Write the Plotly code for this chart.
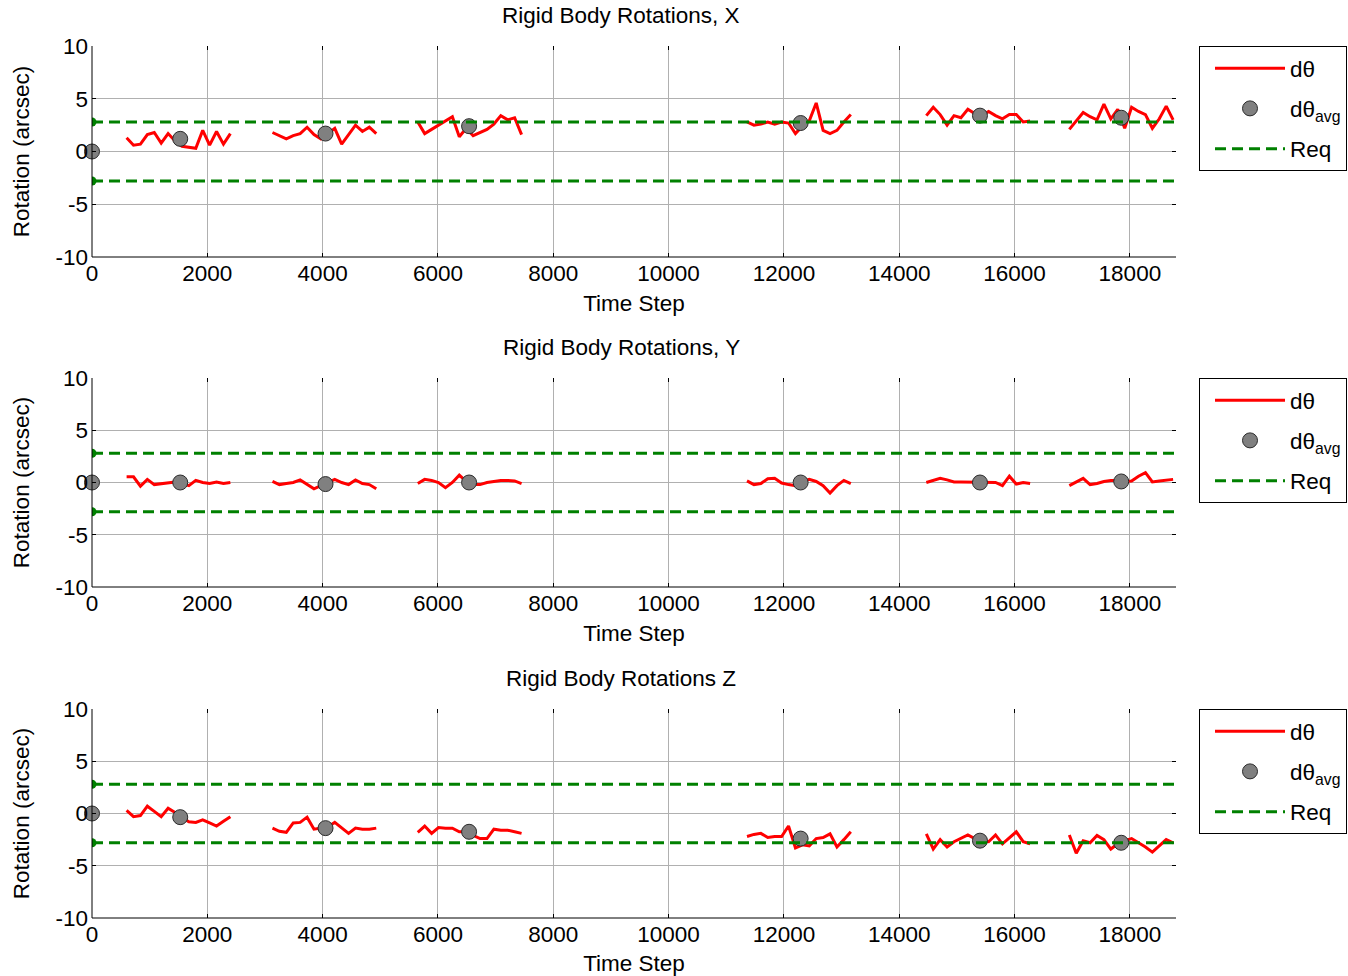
import plotly.graph_objects as go

# Sampling of the rotation records
STEP = 120
seg_start = [600, 3130, 5650, 11360, 14470, 16950]

# Rigid body rotation per segment (arcsec)
rot_x = [
    [1.3, 0.6, 0.7, 1.6, 1.8, 0.8, 1.7, 1.0, 0.5, 0.4, 0.3, 2.0, 0.6, 1.9, 0.7, 1.7],
    [1.8, 1.5, 1.2, 1.5, 1.7, 2.3, 1.6, 1.2, 1.7, 2.2, 0.7, 1.6, 2.5, 1.9, 2.3, 1.7],
    [2.8, 1.7, 2.1, 2.5, 2.9, 3.3, 1.4, 2.2, 1.5, 1.8, 2.1, 2.6, 3.4, 3.0, 3.2, 1.6],
    [2.8, 2.5, 2.6, 2.8, 2.6, 2.8, 2.7, 1.7, 2.4, 2.9, 4.6, 2.0, 1.7, 2.0, 2.8, 3.5],
    [3.4, 4.2, 3.5, 2.5, 3.4, 3.2, 4.0, 3.6, 3.4, 3.8, 3.4, 3.1, 3.5, 3.5, 2.8, 2.9],
    [2.1, 2.9, 3.7, 3.3, 3.0, 4.5, 3.1, 4.0, 2.2, 4.2, 3.8, 3.5, 2.2, 3.1, 4.3, 3.0],
]
rot_y = [
    [0.55, 0.55, -0.35, 0.3, -0.2, -0.1, 0.0, 0.05, -0.1, -0.3, 0.2, 0.0, -0.1, 0.05, -0.1, 0.0],
    [0.1, -0.2, -0.1, 0.0, 0.25, -0.2, -0.6, -0.3, 0.0, 0.3, 0.0, -0.2, 0.25, -0.1, -0.2, -0.6],
    [-0.1, 0.3, 0.2, 0.0, -0.5, 0.0, 0.7, 0.1, -0.2, -0.2, 0.0, 0.1, 0.2, 0.2, 0.15, -0.1],
    [0.15, -0.2, -0.1, 0.35, 0.4, -0.05, -0.2, -0.3, 0.1, 0.3, 0.1, -0.3, -1.0, -0.3, 0.2, -0.1],
    [0.0, 0.2, 0.4, 0.25, 0.05, 0.05, 0.05, 0.0, 0.0, 0.0, 0.0, -0.3, 0.6, -0.15, 0.0, -0.1],
    [-0.3, 0.05, 0.4, -0.2, -0.1, 0.1, 0.2, 0.2, 0.1, 0.15, 0.6, 0.95, 0.05, 0.15, 0.2, 0.3],
]
rot_z = [
    [0.3, -0.3, -0.2, 0.7, 0.2, -0.3, 0.5, 0.1, -0.4, -0.8, -0.85, -0.6, -0.9, -1.2, -0.75, -0.3],
    [-1.4, -1.7, -1.8, -0.9, -0.85, -0.35, -1.5, -1.4, -1.3, -0.85, -1.4, -1.9, -1.4, -1.5, -1.5, -1.4],
    [-1.8, -1.2, -1.9, -1.35, -1.4, -1.4, -1.75, -1.75, -2.1, -2.4, -2.4, -1.5, -1.6, -1.6, -1.75, -1.9],
    [-2.2, -2.0, -1.9, -2.3, -2.2, -2.2, -1.2, -3.3, -3.0, -3.1, -2.4, -2.3, -1.95, -3.2, -2.5, -1.75],
    [-1.95, -3.4, -2.5, -3.2, -2.7, -2.4, -2.05, -2.4, -2.6, -2.7, -2.05, -2.9, -2.3, -1.75, -2.7, -2.9],
    [-2.05, -3.8, -2.6, -2.8, -2.1, -2.5, -3.4, -2.9, -2.6, -2.4, -2.8, -3.2, -3.7, -3.1, -2.5, -2.8],
]

# Segment averages
avg_time = [0, 1530, 4050, 6540, 12290, 15400, 17850]
avg_x = [0.0, 1.2, 1.7, 2.4, 2.7, 3.4, 3.2]
avg_y = [0.0, 0.0, -0.15, 0.0, 0.0, 0.0, 0.1]
avg_z = [0.0, -0.35, -1.4, -1.75, -2.4, -2.6, -2.8]

# Requirement band (arcsec)
REQ = 2.8
T_MAX = 18800

titles = ["Rigid Body Rotations, X", "Rigid Body Rotations, Y", "Rigid Body Rotations Z"]
x_ticks = [0, 2000, 4000, 6000, 8000, 10000, 12000, 14000, 16000, 18000]
x_ticktext = ["0", "2000", "4000", "6000", "8000", "10000", "12000", "14000", "16000", "18000"]
y_ticks = [-10, -5, 0, 5, 10]
y_ticktext = ["-10", "-5", "0", "5", "10"]

FONT = "Liberation Sans, Arial, Helvetica, sans-serif"
FS = 22.5
W, H = 1348, 976
M_L, M_R, M_T, M_B = 92, 172, 46, 58
plot_h = H - M_T - M_B

# Panel extents in pixels (top, bottom)
panel_px = [(46, 257), (378, 587), (709, 918)]
title_px = [16, 347, 678]


def py(pix):
    return (H - M_B - pix) / plot_h


def segment_xy(segs):
    xs, ys = [], []
    for start, vals in zip(seg_start, segs):
        xs += [start + STEP * i for i in range(len(vals))] + [None]
        ys += list(vals) + [None]
    return xs, ys


txt = dict(family=FONT, size=FS, color="black")

fig = go.Figure()
layout = dict(
    width=W, height=H,
    margin=dict(l=M_L, r=M_R, t=M_T, b=M_B, autoexpand=False),
    paper_bgcolor="white", plot_bgcolor="white",
    font=txt,
    showlegend=True,
    annotations=[], shapes=[],
)

for i, (segs, avg) in enumerate(zip([rot_x, rot_y, rot_z], [avg_x, avg_y, avg_z])):
    n = "" if i == 0 else str(i + 1)
    xa, ya, lg = "x" + n, "y" + n, "legend" + n
    top, bot = panel_px[i]
    dom = [py(bot), py(top)]

    sx, sy = segment_xy(segs)
    fig.add_trace(go.Scatter(
        x=sx, y=sy, mode="lines", name="dθ", xaxis=xa, yaxis=ya, legend=lg,
        legendgroup="a" + n, line=dict(color="#ff0000", width=3), connectgaps=False,
    ))
    fig.add_trace(go.Scatter(
        x=avg_time, y=avg, mode="markers", name="dθ<sub>avg</sub>", xaxis=xa, yaxis=ya,
        legend=lg, legendgroup="b" + n, cliponaxis=False,
        marker=dict(color="#808080", size=15, line=dict(color="#2a2a2a", width=1)),
    ))
    fig.add_trace(go.Scatter(
        x=[0, T_MAX, None, 0, T_MAX], y=[REQ, REQ, None, -REQ, -REQ], mode="lines",
        name="Req", xaxis=xa, yaxis=ya, legend=lg, legendgroup="c" + n,
        line=dict(color="#008000", width=3, dash="11px,6px"),
    ))
    fig.add_trace(go.Scatter(
        x=[0, 0], y=[REQ, -REQ], mode="markers", showlegend=False, xaxis=xa, yaxis=ya,
        marker=dict(color="#008000", size=9), hoverinfo="skip",
    ))

    layout["xaxis" + n] = dict(
        domain=[0, 1], anchor=ya, range=[0, T_MAX], tickvals=x_ticks, ticktext=x_ticktext,
        ticks="inside", ticklen=4, tickcolor="black", mirror="ticks", showline=False,
        showgrid=True, gridcolor="#b0b0b0", gridwidth=1, zeroline=False,
        tickfont=txt,
        title=dict(text="Time Step", font=txt, standoff=10),
    )
    layout["yaxis" + n] = dict(
        domain=dom, anchor=xa, range=[-10, 10], tickvals=y_ticks, ticktext=y_ticktext,
        ticks="inside", ticklen=4, tickcolor="black", mirror="ticks", showline=False,
        showgrid=True, gridcolor="#b0b0b0", gridwidth=1, zeroline=False,
        tickfont=txt, ticklabelstandoff=3,
        title=dict(text="Rotation (arcsec)", font=txt, standoff=19),
    )
    layout[lg] = dict(
        x=(1199 - M_L) / (W - M_L - M_R), y=dom[1], xanchor="left", yanchor="top",
        bordercolor="black", borderwidth=1, bgcolor="white",
        font=txt, itemwidth=70, indentation=10,
        traceorder="grouped", tracegroupgap=8,
    )
    # left and bottom axis lines
    layout["shapes"] += [
        dict(type="line", xref=xa + " domain", yref=ya + " domain", x0=0, x1=0, y0=0, y1=1,
             line=dict(color="black", width=1)),
        dict(type="line", xref=xa + " domain", yref=ya + " domain", x0=0, x1=1, y0=0, y1=0,
             line=dict(color="black", width=1)),
    ]
    layout["annotations"].append(dict(
        text=titles[i], xref="paper", yref="paper", x=(621 - M_L) / (W - M_L - M_R),
        y=py(title_px[i]), xanchor="center", yanchor="middle", showarrow=False,
        font=txt,
    ))

fig.update_layout(**layout)
fig.write_html("out.html")
